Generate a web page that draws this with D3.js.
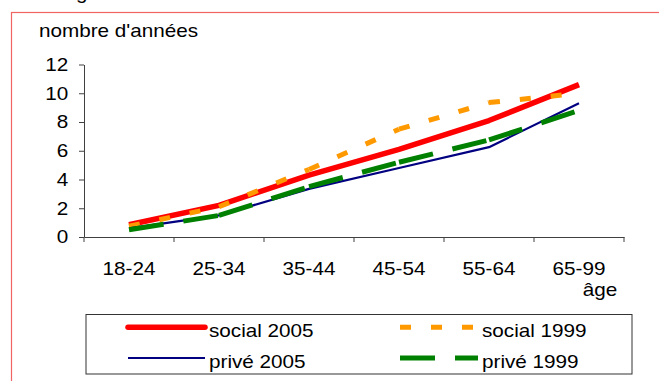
<!DOCTYPE html>
<html>
<head>
<meta charset="utf-8">
<script src="https://cdn.jsdelivr.net/npm/d3@7"></script>
<style>
  body { margin: 0; background: #fff; }
  text { font-family: "Liberation Sans", Arial, sans-serif; font-size: 18px; fill: #000; }
</style>
</head>
<body>
<div id="chart"></div>
<script>
// Data
const ageGroups = ["18-24", "25-34", "35-44", "45-54", "55-64", "65-99"];
const social2005 = [0.85, 2.2, 4.3, 6.1, 8.1, 10.6];
const social1999 = [0.75, 2.1, 4.7, 7.5, 9.35, 10.0];
const prive2005 = [0.6, 1.5, 3.35, 4.8, 6.25, 9.3];
const prive1999 = [0.5, 1.5, 3.5, 5.2, 6.75, 8.8];
const yTicks = [0, 2, 4, 6, 8, 10, 12];

const series = [
  { name: "social 2005", values: social2005, color: "#ff0000", width: 5.5, dash: null },
  { name: "social 1999", values: social1999, color: "#ff9900", width: 5, dash: "11,20" },
  { name: "privé 2005", values: prive2005, color: "#000080", width: 2.2, dash: null },
  { name: "privé 1999", values: prive1999, color: "#008000", width: 5, dash: "35,20" }
];

const W = 659, H = 381;
const sx = 1.15; // the source text is a bit stretched horizontally

const svg = d3.select("#chart")
  .append("svg")
  .attr("width", W)
  .attr("height", H);

// outer frame, only its top and left edges are in view
svg.append("rect")
  .attr("x", 11.5).attr("y", 12.5)
  .attr("width", 700).attr("height", 400)
  .attr("fill", "none")
  .attr("stroke", "#f06464")
  .attr("stroke-width", 1.2);

function label(x, y, str, anchor) {
  svg.append("text")
    .attr("transform", `translate(${x},${y}) scale(${sx},1)`)
    .attr("text-anchor", anchor || "start")
    .text(str);
}

// descender of a title cut off at the top
label(76, -1, "g");
label(39, 37, "nombre d'années");

// scales
const x = d3.scaleBand().domain(ageGroups).range([84, 624]);
const y = d3.scaleLinear().domain([0, 12]).range([237, 64.5]);
const cx = d => x(d) + x.bandwidth() / 2;

// y axis
const yAxis = svg.append("g")
  .attr("transform", "translate(84,0)")
  .call(d3.axisLeft(y).tickValues(yTicks).tickSize(5).tickSizeOuter(0).tickPadding(8.6));
yAxis.selectAll("text")
  .attr("transform", `scale(${sx},1)`)
  .style("font-family", "'Liberation Sans', Arial, sans-serif")
  .style("font-size", "18px");

// x axis: labels at centres, ticks at the band edges
const xAxis = svg.append("g")
  .attr("transform", "translate(0,237)")
  .call(d3.axisBottom(x).tickSize(0).tickSizeOuter(0).tickPadding(25));
xAxis.selectAll("text")
  .attr("transform", `scale(${sx},1)`)
  .style("font-family", "'Liberation Sans', Arial, sans-serif")
  .style("font-size", "18px");
// band scale centres the tick groups; scaling the text about them keeps it centred
xAxis.selectAll(".tick text").attr("transform", `scale(${sx},1)`);

svg.append("g")
  .selectAll("line")
  .data(ageGroups.map(d => x(d)).concat([x.range()[1]]))
  .join("line")
  .attr("x1", d => d).attr("x2", d => d)
  .attr("y1", 237).attr("y2", 242)
  .attr("stroke", "#404040");

svg.selectAll(".domain, .tick line").attr("stroke", "#404040");

label(600, 296, "âge", "middle");

// lines; dashed series restart their pattern on every segment, like the source
const line = d3.line()
  .x(d => cx(d.age))
  .y(d => y(d.v));

series.forEach(s => {
  const pts = ageGroups.map((a, i) => ({ age: a, v: s.values[i] }));
  if (s.dash) {
    const segs = d3.pairs(pts);
    svg.append("g")
      .selectAll("path")
      .data(segs)
      .join("path")
      .attr("fill", "none")
      .attr("stroke", s.color)
      .attr("stroke-width", s.width)
      .attr("stroke-dasharray", s.dash)
      .attr("d", line);
  } else {
    svg.append("path")
      .datum(pts)
      .attr("fill", "none")
      .attr("stroke", s.color)
      .attr("stroke-width", s.width)
      .attr("stroke-linejoin", "round")
      .attr("d", line);
  }
});

// legend
svg.append("rect")
  .attr("x", 86).attr("y", 314.5)
  .attr("width", 546).attr("height", 59.5)
  .attr("fill", "#fff")
  .attr("stroke", "#333")
  .attr("stroke-width", 1);

const legendCols = [{ x1: 128, x2: 205, tx: 209 }, { x1: 400, x2: 478, tx: 482 }];
const legendRows = [327.3, 358];

series.forEach((s, i) => {
  const col = legendCols[i % 2];
  const ry = legendRows[Math.floor(i / 2)];
  svg.append("line")
    .attr("x1", col.x1).attr("x2", col.x2)
    .attr("y1", ry).attr("y2", ry)
    .attr("stroke", s.color)
    .attr("stroke-width", s.width)
    .attr("stroke-linecap", s.dash ? "butt" : (s.width > 3 ? "round" : "butt"))
    .attr("stroke-dasharray", s.dash);
  label(col.tx, ry + 9.8, s.name);
});
</script>
</body>
</html>
